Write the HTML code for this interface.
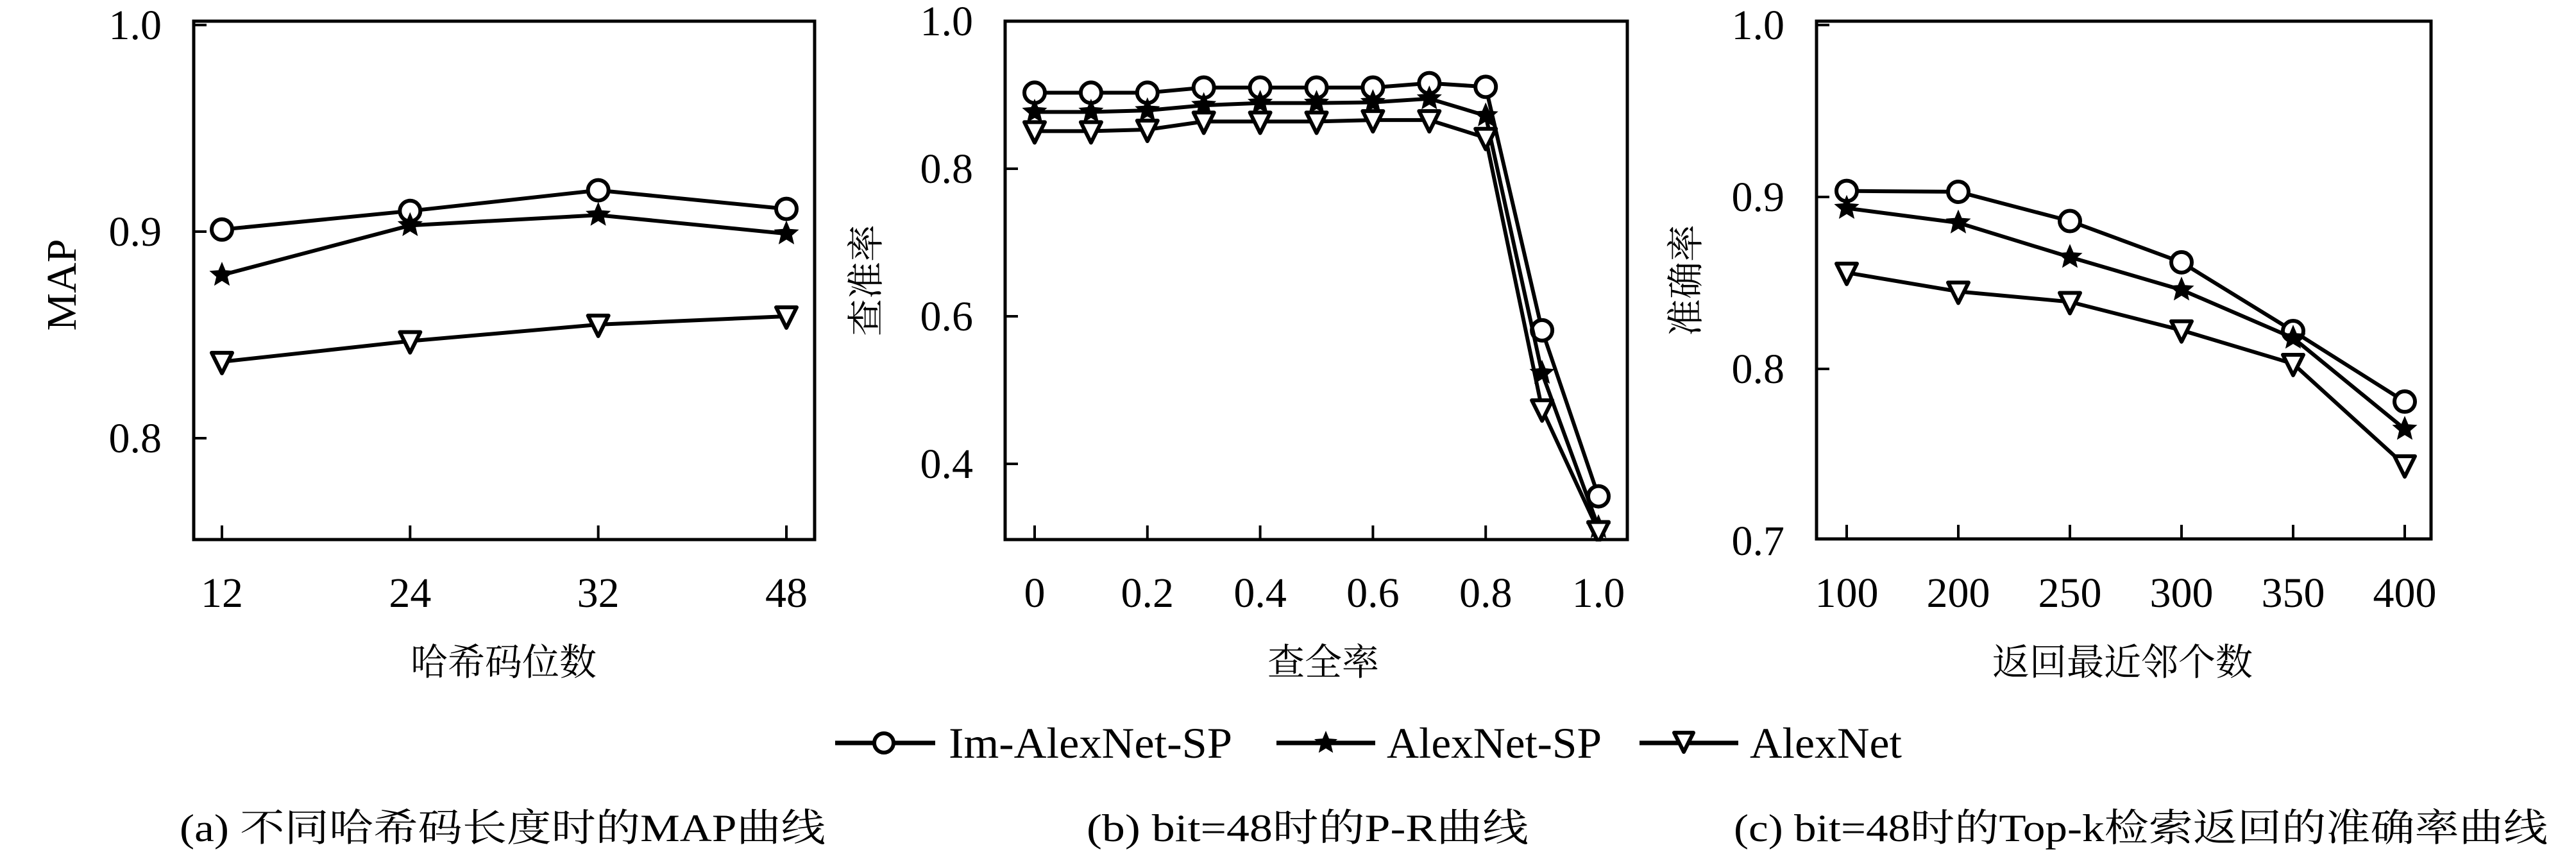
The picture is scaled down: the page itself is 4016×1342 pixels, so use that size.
<!DOCTYPE html>
<html><head><meta charset="utf-8">
<style>
html,body{margin:0;padding:0;background:#fff;}
svg{display:block;font-family:"Liberation Serif","Noto Serif CJK SC",serif;}
text{font-family:"Liberation Serif","Noto Serif CJK SC",serif;fill:#000;}
</style></head>
<body>
<svg id="fig" width="4016" height="1342" viewBox="0 0 4016 1342" xmlns="http://www.w3.org/2000/svg" font-family="'Liberation Serif','Noto Serif CJK SC',serif">
<rect width="4016" height="1342" fill="#fff"/>
<g id="charts"></g>
<g id="legend">
  <g>
    <line x1="1302" y1="1158" x2="1458" y2="1158" stroke="#000" stroke-width="7"/>
    <circle cx="1378" cy="1158" r="15" fill="#fff" stroke="#000" stroke-width="6"/>
    <text x="1479" y="1181" font-size="68" textLength="442" lengthAdjust="spacingAndGlyphs">Im-AlexNet-SP</text>
  </g>
  <g>
    <line x1="1990" y1="1158" x2="2144" y2="1158" stroke="#000" stroke-width="7"/>
    <polygon id="legstar" fill="#000" points=""/>
    <text x="2162" y="1181" font-size="68" textLength="335" lengthAdjust="spacingAndGlyphs">AlexNet-SP</text>
  </g>
  <g>
    <line x1="2556" y1="1158" x2="2710" y2="1158" stroke="#000" stroke-width="7"/>
    <polygon points="2610,1142 2640,1142 2625,1172" fill="#fff" stroke="#000" stroke-width="6" stroke-linejoin="round"/>
    <text x="2728" y="1181" font-size="68" textLength="237" lengthAdjust="spacingAndGlyphs">AlexNet</text>
  </g>
</g>
<text x="280" y="1311" font-size="60" textLength="1007" lengthAdjust="spacingAndGlyphs">(a) 不同哈希码长度时的MAP曲线</text>
<text x="1694" y="1311" font-size="60" textLength="689" lengthAdjust="spacingAndGlyphs">(b) bit=48时的P-R曲线</text>
<text x="2703" y="1311" font-size="60" textLength="1269" lengthAdjust="spacingAndGlyphs">(c) bit=48时的Top-k检索返回的准确率曲线</text>
</svg>
<script>
// ---- chart (a) data ----
const aCategories = ["12","24","32","48"];
const aIm = [0.901,0.910,0.920,0.911];
const aSP = [0.879,0.903,0.908,0.899];
const aAlex = [0.837,0.847,0.855,0.859];
const aYTicks = [0.8,0.9,1.0];
const aYTickLabels = ["0.8","0.9","1.0"];
// ---- chart (b) data ----
const bRecall = [0,0.1,0.2,0.3,0.4,0.5,0.6,0.7,0.8,0.9,1.0];
const bIm = [0.903,0.903,0.903,0.910,0.910,0.910,0.910,0.916,0.911,0.581,0.356];
const bSP = [0.877,0.877,0.879,0.886,0.889,0.889,0.890,0.895,0.872,0.523,0.314];
const bAlex = [0.851,0.851,0.853,0.864,0.864,0.864,0.866,0.866,0.842,0.474,0.309];
const bXTicks = [0,0.2,0.4,0.6,0.8,1.0];
const bXTickLabels = ["0","0.2","0.4","0.6","0.8","1.0"];
const bYTicks = [0.4,0.6,0.8,1.0];
const bYTickLabels = ["0.4","0.6","0.8","1.0"];
// ---- chart (c) data ----
const cCategories = ["100","200","250","300","350","400"];
const cIm = [0.9035,0.903,0.886,0.862,0.822,0.781];
const cSP = [0.8935,0.885,0.865,0.846,0.818,0.765];
const cAlex = [0.856,0.845,0.839,0.8225,0.803,0.744];
const cYTicks = [0.7,0.8,0.9,1.0];
const cYTickLabels = ["0.7","0.8","0.9","1.0"];

const NS="http://www.w3.org/2000/svg";
function mk(tag, attrs, parent){const e=document.createElementNS(NS,tag);for(const k in attrs)e.setAttribute(k,attrs[k]);if(parent)parent.appendChild(e);return e;}
function starPts(cx,cy,R){const r=R*0.45;let p=[];for(let i=0;i<10;i++){const a=-Math.PI/2+i*Math.PI/5;const rr=i%2?r:R;p.push((cx+rr*Math.cos(a)).toFixed(1)+","+(cy+rr*Math.sin(a)).toFixed(1));}return p.join(" ");}
document.getElementById('legstar').setAttribute('points',starPts(2067,1158,19));
const FF="'Liberation Serif','Noto Serif CJK SC',serif";

function marker(g,type,x,y){
  let m;
  if(type==='circle') m=mk('circle',{cx:x,cy:y,r:16,fill:'#fff',stroke:'#000','stroke-width':6},g);
  else if(type==='star') m=mk('polygon',{points:starPts(x,y,18),fill:'#000',stroke:'#000','stroke-width':2},g);
  else m=mk('polygon',{points:`${x-16},${y-14} ${x+16},${y-14} ${x},${y+18}`,fill:'#fff',stroke:'#000','stroke-width':6,'stroke-linejoin':'round'},g);
  return m;
}

function chart(opt){
  const root=document.getElementById('charts');
  const g=mk('g',{'font-family':FF},root);
  
  
  const {L,R,T,B}=opt;
  const sx=opt.sx, sy=opt.sy;
  const box=mk('rect',{x:L,y:T,width:R-L,height:B-T,fill:'none',stroke:'#000','stroke-width':5},g);
  
  
  opt.yTicks.forEach((v,i)=>{
    const y=sy(v);
    if(y>T+5&&y<B-5){const t=mk('line',{x1:L,y1:y,x2:L+20,y2:y,stroke:'#000','stroke-width':4},g);
      
      }
    const lab=mk('text',{x:L-50,y:y+22,'font-size':66,'text-anchor':'end'},g);
    lab.textContent=opt.yLabels[i];
    
    
  });
  opt.xTicks.forEach((v,i)=>{
    const x=opt.xt(v,i);
    const t=mk('line',{x1:x,y1:B,x2:x,y2:B-22,stroke:'#000','stroke-width':4},g);
    
    
    const lab=mk('text',{x:x,y:946,'font-size':66,'text-anchor':'middle'},g);
    lab.textContent=opt.xLabels[i];
    
    
  });
  const xt=mk('text',{x:opt.xTitleX,y:1052,'font-size':58,'text-anchor':'middle'},g);
  xt.textContent=opt.xTitle;
  
  
  const yt=mk('text',{x:0,y:0,'font-size':opt.yTitleSize||58,'text-anchor':'middle',transform:`translate(${opt.yTitleX},${opt.yTitleY}) rotate(-90)`},g);
  yt.textContent=opt.yTitle;
  
  
  const cid='clip'+opt.name;
  const cp=mk('clipPath',{id:cid},g);mk('rect',{x:L,y:T,width:R-L,height:B-T+3},cp);
  const dg=mk('g',{'clip-path':`url(#${cid})`},g);
  opt.series.forEach(s=>{
    const sg=mk('g',{},dg);
    
    
    const pts=s.vals.map((v,i)=>[sx(i),sy(v)]);
    const pl=mk('polyline',{points:pts.map(p=>p.join(',')).join(' '),fill:'none',stroke:'#000','stroke-width':6,'stroke-linejoin':'round'},sg);
    
    
    pts.forEach(p=>{const m=marker(sg,s.type,p[0],p[1]);
      
      });
  });
}

(function(){
  const L=302,R=1270,T=33,B=841;
  const x0=346,dx=(1226-346)/(aCategories.length-1);
  const sx=i=>x0+i*dx; const sy=v=>683-(v-0.8)*3220;
  chart({name:'chart-a',L,R,T,B,sx,sy,yTicks:aYTicks,yLabels:aYTickLabels,
    xTicks:aCategories,xLabels:aCategories,xt:(v,i)=>sx(i),
    xTitle:'哈希码位数',xTitleX:785,yTitle:'MAP',yTitleX:118,yTitleY:444,yTitleSize:66,
    series:[{key:'im-alexnet-sp',vals:aIm,type:'circle'},{key:'alexnet-sp',vals:aSP,type:'star'},{key:'alexnet',vals:aAlex,type:'tri'}]});
})();
(function(){
  const L=1567,R=2537,T=33,B=841;
  const px=r=>1613+r*(2492-1613);
  const sx=i=>px(bRecall[i]); const sy=v=>263-(v-0.8)*1150;
  chart({name:'chart-b',L,R,T,B,sx,sy,yTicks:bYTicks,yLabels:bYTickLabels,
    xTicks:bXTicks,xLabels:bXTickLabels,xt:(v)=>px(v),
    xTitle:'查全率',xTitleX:2063,yTitle:'查准率',yTitleX:1370,yTitleY:437,
    series:[{key:'im-alexnet-sp',vals:bIm,type:'circle'},{key:'alexnet-sp',vals:bSP,type:'star'},{key:'alexnet',vals:bAlex,type:'tri'}]});
})();
(function(){
  const L=2832,R=3790,T=33,B=840;
  const x0=2879,dx=(3749-2879)/(cCategories.length-1);
  const sx=i=>x0+i*dx; const sy=v=>575-(v-0.8)*2680;
  chart({name:'chart-c',L,R,T,B,sx,sy,yTicks:cYTicks,yLabels:cYTickLabels,
    xTicks:cCategories,xLabels:cCategories,xt:(v,i)=>sx(i),
    xTitle:'返回最近邻个数',xTitleX:3309,yTitle:'准确率',yTitleX:2648,yTitleY:437,
    series:[{key:'im-alexnet-sp',vals:cIm,type:'circle'},{key:'alexnet-sp',vals:cSP,type:'star'},{key:'alexnet',vals:cAlex,type:'tri'}]});
})();
</script>
</body></html>
